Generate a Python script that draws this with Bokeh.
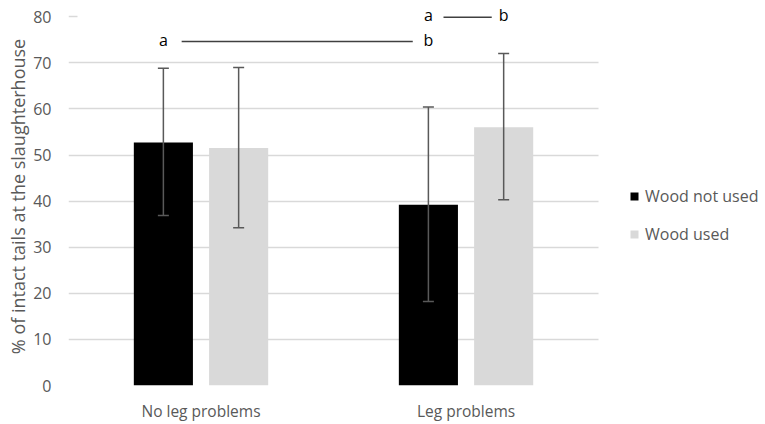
from bokeh.plotting import figure
from bokeh.models import (ColumnDataSource, Range1d, FixedTicker,
                          Whisker, TeeHead, Legend, LegendItem, BoxAnnotation)
from bokeh.core.properties import value
from bokeh.embed import file_html
from bokeh.resources import INLINE

# ---- data ----
categories = ["No leg problems", "Leg problems"]
series_names = ["Wood not used", "Wood used"]
wood_not_used = [52.7, 39.2]
wood_not_used_lower = [36.9, 18.2]
wood_not_used_upper = [68.8, 60.4]
wood_used = [51.5, 56.0]
wood_used_lower = [34.2, 40.3]
wood_used_upper = [69.0, 72.0]
y_ticks = [0, 10, 20, 30, 40, 50, 60, 70, 80]

# significance letters: row 1 compares Wood-not-used across leg groups,
# row 2 compares Wood-not-used vs Wood-used within "Leg problems"
sig1_group = [0, 1]          # category index
sig1_letters = ["a", "b"]
sig1_y = 75.0
sig2_group = [1, 1]
sig2_series = [0, 1]         # series index (0 = not used, 1 = used)
sig2_letters = ["a", "b"]
sig2_y = 80.3

FONT = "Open Sans"
GREY_TXT = "#595959"
OFF = 0.142          # half distance between paired bars (category units)
W = 0.223            # bar width (category units)
n = len(categories)
centers = [i + 0.5 for i in range(n)]

p = figure(x_range=Range1d(0, n + 0.63), y_range=Range1d(0, 82),
           width=765, height=424, output_backend="svg", toolbar_location=None,
           min_border_left=68, min_border_right=0, min_border_top=7,
           min_border_bottom=30)
p.outline_line_color = None
p.background_fill_color = "white"

# grid / axes
p.yaxis.ticker = FixedTicker(ticks=y_ticks)
p.xaxis.ticker = FixedTicker(ticks=centers)
p.xaxis.major_label_overrides = {c: name for c, name in zip(centers, categories)}
p.ygrid.grid_line_color = "#d9d9d9"
p.ygrid.grid_line_width = 1.5
p.ygrid.cross_bounds = (0, n)
p.xgrid.grid_line_color = None

for ax in (p.xaxis[0], p.yaxis[0]):
    ax.axis_line_color = None
    ax.major_tick_line_color = None
    ax.minor_tick_line_color = None
    ax.major_label_text_font = FONT
    ax.major_label_text_color = GREY_TXT
p.xaxis.major_label_text_font_size = "15.5px"
p.yaxis.major_label_text_font_size = "16px"

p.yaxis.major_label_standoff = 11
p.yaxis.axis_label = "% of intact tails at the slaughterhouse"
p.yaxis.axis_label_text_font = FONT
p.yaxis.axis_label_text_font_size = "18px"
p.yaxis.axis_label_text_font_style = "normal"
p.yaxis.axis_label_text_color = GREY_TXT
p.yaxis.axis_label_standoff = 0
p.xaxis.major_label_standoff = 8

# hide the top gridline behind the annotation area (as in the original)
p.add_layout(BoxAnnotation(left=9, left_units="screen", bottom=79.1, top=80.9,
                           fill_color="white", fill_alpha=1, line_color=None,
                           level="underlay"))

src = ColumnDataSource(dict(
    x0=[c - OFF for c in centers], x1=[c + OFF for c in centers],
    nu=wood_not_used, nu_lo=wood_not_used_lower, nu_hi=wood_not_used_upper,
    u=wood_used, u_lo=wood_used_lower, u_hi=wood_used_upper))

# bars
r1 = p.vbar(x="x0", top="nu", width=W, source=src, fill_color="black", line_color=None)
r2 = p.vbar(x="x1", top="u", width=W, source=src, fill_color="#d9d9d9", line_color=None)

# error bars
for xc, lo, hi in (("x0", "nu_lo", "nu_hi"), ("x1", "u_lo", "u_hi")):
    w = Whisker(base=xc, lower=lo, upper=hi, source=src,
                line_color=GREY_TXT, line_width=1.5, level="annotation",
                upper_head=TeeHead(size=11, line_color=GREY_TXT, line_width=1.5),
                lower_head=TeeHead(size=11, line_color=GREY_TXT, line_width=1.5))
    p.add_layout(w)

# significance letters and connecting lines
sx1 = [centers[g] - OFF for g in sig1_group]
sx2 = [centers[g] + (OFF if s else -OFF) for g, s in zip(sig2_group, sig2_series)]
letters = ColumnDataSource(dict(x=sx1 + sx2, y=[sig1_y] * 2 + [sig2_y] * 2,
                                txt=sig1_letters + sig2_letters))
p.text(x="x", y="y", text="txt", source=letters,
       text_font=value(FONT), text_font_size="16px", text_color="black",
       text_align="center", text_baseline="middle")
lines = ColumnDataSource(dict(x0=[sx1[0] + 0.069, sx2[0] + 0.057],
                              x1=[sx1[1] - 0.059, sx2[1] - 0.045],
                              y=[74.6, 79.9]))
p.segment(x0="x0", y0="y", x1="x1", y1="y", source=lines,
          line_color="#404040", line_width=1.5)

# legend
legend = Legend(items=[LegendItem(label=series_names[0], renderers=[r1]),
                       LegendItem(label=series_names[1], renderers=[r2])],
                location=(561, 140), glyph_width=10, glyph_height=10,
                label_standoff=6, label_height=21, spacing=16, padding=0, margin=0,
                border_line_color=None, background_fill_alpha=0,
                label_text_font=FONT, label_text_font_size="16px",
                label_text_color=GREY_TXT)
p.add_layout(legend)

open("out.html", "w").write(file_html(p, INLINE))
